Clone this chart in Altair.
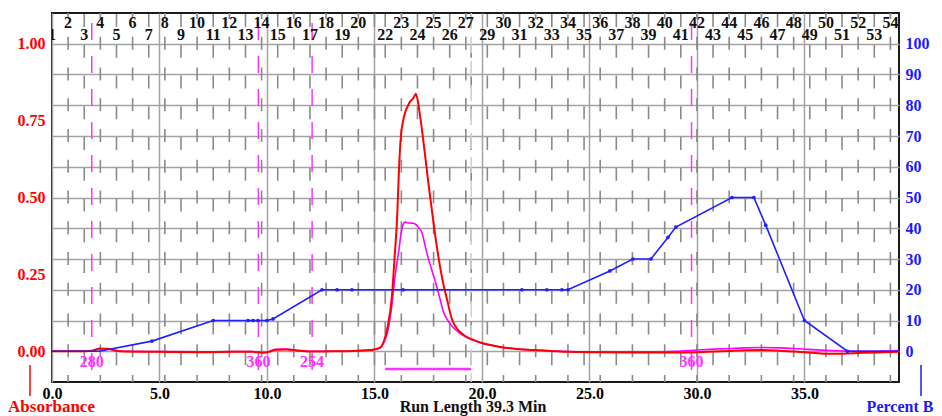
import altair as alt
import pandas as pd

SERIF = "Liberation Serif"

# ---------------- data ----------------
# Absorbance traces (minutes, AU)
abs_t = [0, 1.5, 1.9, 2.2, 2.6, 2.9, 3.3, 5.0, 7.0, 8.5, 9.3, 9.8, 10.1, 10.4, 10.9, 11.4, 12.0, 13.0,
         14.0, 14.6, 15.0, 15.26, 15.45, 15.6, 15.81, 15.95, 16.05, 16.14, 16.23, 16.32, 16.42, 16.55,
         16.65, 16.8, 16.93, 17.07, 17.21, 17.35, 17.49, 17.65, 17.81, 18.05, 18.2, 18.37, 18.6, 18.88,
         19.1, 19.3, 19.6, 20.0, 20.4, 20.84, 21.5, 22.4, 23.2, 24.0, 25.0, 27.0, 28.0, 29.0, 30.0,
         30.8, 31.5, 32.2, 33.0, 33.8, 34.5, 35.2, 36.0, 36.8, 37.5, 38.3, 39.4]
red_v = [0.0, 0.0, 0.002, 0.008, 0.008, 0.003, -0.001, -0.002, -0.003, -0.002, -0.002, -0.005, -0.002,
         0.005, 0.006, 0.002, -0.001, 0.0, 0.001, 0.003, 0.006, 0.012, 0.035, 0.075, 0.177, 0.32, 0.427,
         0.59, 0.7, 0.745, 0.775, 0.797, 0.811, 0.822, 0.837, 0.79, 0.72, 0.64, 0.557, 0.47, 0.385,
         0.275, 0.22, 0.17, 0.105, 0.07, 0.056, 0.046, 0.037, 0.027, 0.02, 0.014, 0.008, 0.004, 0.001,
         -0.002, -0.003, -0.004, -0.004, -0.004, -0.003, -0.001, 0.001, 0.003, 0.004, 0.002, -0.001,
         -0.004, -0.008, -0.008, -0.006, -0.004, -0.002]
mag_v = [0.0, 0.0, 0.003, 0.009, 0.008, 0.003, 0.0, -0.001, -0.002, -0.001, -0.001, -0.004, -0.001,
         0.006, 0.007, 0.003, 0.0, 0.0, 0.001, 0.003, 0.006, 0.011, 0.03, 0.06, 0.15, 0.24, 0.29, 0.33,
         0.38, 0.41, 0.42, 0.418, 0.417, 0.416, 0.412, 0.4, 0.386, 0.345, 0.306, 0.268, 0.232, 0.17,
         0.13, 0.105, 0.082, 0.064, 0.053, 0.045, 0.036, 0.026, 0.02, 0.014, 0.008, 0.004, 0.001,
         -0.001, -0.002, -0.002, -0.002, 0.0, 0.004, 0.007, 0.009, 0.011, 0.012, 0.011, 0.009, 0.006,
         0.003, 0.001, 0.0, 0.0, 0.002]

# Percent B gradient
pct_t = [0, 2.2, 4.65, 7.5, 9.12, 9.35, 9.58, 10.0, 10.28, 12.56, 13.26, 13.95, 16.33, 21.86, 23.02,
         23.72, 24.0, 25.95, 27.02, 27.86, 28.65, 29.02, 31.63, 32.65, 33.2, 35.0, 37.0, 39.4]
pct_v = [0, 0, 3.3, 10, 10, 10, 10, 10, 10.5, 20, 20, 20, 20, 20, 20, 20, 20, 26.1, 30, 30, 37, 40.4,
         50, 50, 41, 10, 0, 0]
pct_dot = [False, False, True, True, True, True, True, True, True, True, True, True, True, True, True,
           True, True, True, True, True, True, True, True, True, True, True, True, False]

# Fraction boundaries (start of fractions 1..54, minutes)
frac_t = [0.0, 0.75, 1.5, 2.25, 3.0, 3.75, 4.5, 5.25, 6.0, 6.75, 7.5, 8.25, 9.0, 9.75, 10.5, 11.25,
          12.0, 12.75, 13.5, 14.25, 15.0, 15.5, 16.25, 17.0, 17.75, 18.5, 19.25, 19.5, 20.25, 21.0,
          21.75, 22.5, 23.25, 24.0, 24.75, 25.5, 26.25, 27.0, 27.75, 28.5, 29.25, 30.0, 30.75, 31.5,
          32.25, 33.0, 33.75, 34.5, 35.25, 36.0, 36.75, 37.5, 38.25, 39.0]
frac_num = list(range(1, 55))
frac_hidden = [21, 28]

# Wavelength change markers
wl_t = [1.85, 9.6, 12.1, 29.75]
wl_label = ["280", "360", "254", "360"]

# Collection window
coll_start = [15.5]
coll_end = [19.5]
frac_end_marker = [19.5]

x_ticks = [0, 5, 10, 15, 20, 25, 30, 35]
abs_ticks = [0, 0.25, 0.5, 0.75, 1.0]
pct_ticks = [0, 10, 20, 30, 40, 50, 60, 70, 80, 90, 100]

W, H = 847, 369
GRID = "#a3a3a3"
TICKC = "#8a8a8a"

# ---------------- frames ----------------
df_abs = pd.DataFrame({"t": abs_t, "red": red_v, "mag": mag_v})
df_pct = pd.DataFrame({"t": pct_t, "p": pct_v, "isdot": pct_dot})
df_frac = pd.DataFrame({"t": frac_t, "n": frac_num})

lab = df_frac[~df_frac["n"].isin(frac_hidden)].reset_index(drop=True)
lab["label"] = lab["n"].astype(str)
lab["row"] = ["low" if i % 2 == 0 else "up" for i in range(len(lab))]
lab_low = lab[lab["row"] == "low"]
lab_up = lab[lab["row"] == "up"]

row_of = dict(zip(lab["n"], lab["row"]))
ticks_df = df_frac[df_frac["n"] > 1].copy()
ticks_df["row"] = [row_of.get(n, "low") for n in ticks_df["n"]]
ticks_low = ticks_df[ticks_df["row"] == "low"]
ticks_up = ticks_df[ticks_df["row"] == "up"]

df_wl = pd.DataFrame({"t": wl_t, "label": wl_label})
df_coll = pd.DataFrame({"t": coll_start, "t2": coll_end})
df_fend = pd.DataFrame({"t": frac_end_marker})
one = pd.DataFrame({"label": [""]})

X = alt.X("t:Q", scale=alt.Scale(domain=[0, 39.4], nice=False, zero=False),
          axis=alt.Axis(values=x_ticks, format=".1f", grid=True, gridColor=GRID, gridWidth=1.5,
                        ticks=False, domain=False, labelFont=SERIF, labelFontWeight="bold",
                        labelFontSize=16, labelColor="black", labelPadding=3, labelFlush=False,
                        title=None))
X2 = alt.X2("t2:Q")

def y_abs(field):
    return alt.Y(f"{field}:Q", scale=alt.Scale(domain=[-0.1, 1.1], nice=False, zero=False),
                 axis=alt.Axis(orient="left", values=abs_ticks, format=".2f", grid=False,
                               ticks=False, domain=False, labelFont=SERIF, labelFontWeight="bold",
                               labelFontSize=16, labelColor="#ff0000", labelPadding=7, title=None))

Y_PCT = alt.Y("p:Q", scale=alt.Scale(domain=[-10, 110], nice=False, zero=False),
              axis=alt.Axis(orient="right", values=pct_ticks, grid=True, gridColor=GRID,
                            gridWidth=1.5, ticks=False, domain=False, labelFont=SERIF,
                            labelFontWeight="bold", labelFontSize=16, labelColor="#1a1aff",
                            labelPadding=6, title=None))

# fraction boundary dashes
tick_low = alt.Chart(ticks_low).mark_rule(color=TICKC, strokeWidth=1.6, strokeDash=[13, 17.75],
                                          strokeDashOffset=29.75).encode(
    x=X, y=alt.value(0), y2=alt.value(H))
tick_up = alt.Chart(ticks_up).mark_rule(color=TICKC, strokeWidth=1.6, strokeDash=[13, 17.75],
                                        strokeDashOffset=7).encode(
    x=X, y=alt.value(0), y2=alt.value(H))
fend = alt.Chart(df_fend).mark_rule(color="#cfcfcf", strokeWidth=1.5, strokeDash=[16, 8]).encode(
    x=X, y=alt.value(0), y2=alt.value(H))

# wavelength markers
wl_rule = alt.Chart(df_wl).mark_rule(color="#ff33ff", strokeWidth=1.5, strokeDash=[17, 16],
                                     strokeDashOffset=23).encode(
    x=X, y=alt.value(0), y2=alt.value(H - 4))
wl_text = alt.Chart(df_wl).mark_text(font=SERIF, fontWeight="bold", fontSize=16, color="#ff33ff",
                                     baseline="alphabetic", align="center").encode(
    x=X, y=alt.value(354), text="label:N")

# collection bar
coll = alt.Chart(df_coll).mark_rule(color="#ff33ff", strokeWidth=2.5).encode(
    x=X, x2=X2, y=alt.value(356))

# fraction numbers
num_up = alt.Chart(lab_up).mark_text(font=SERIF, fontWeight="bold", fontSize=16, color="#111",
                                     baseline="alphabetic", align="center", clip=True).encode(
    x=X, y=alt.value(15), text="label:N")
num_low = alt.Chart(lab_low).mark_text(font=SERIF, fontWeight="bold", fontSize=16, color="#111",
                                       baseline="alphabetic", align="center", clip=True).encode(
    x=X, y=alt.value(27), text="label:N")

# absorbance traces
mag_line = alt.Chart(df_abs).mark_line(color="#ff00ff", strokeWidth=1.6, interpolate="monotone").encode(
    x=X, y=y_abs("mag"))
red_line = alt.Chart(df_abs).mark_line(color="#ff0000", strokeWidth=2, interpolate="monotone").encode(
    x=X, y=y_abs("red"))
abs_layer = alt.layer(mag_line, red_line)

# percent B
pct_line = alt.Chart(df_pct).mark_line(color="#1f1fff", strokeWidth=1.6).encode(x=X, y=Y_PCT)
pct_pts = alt.Chart(df_pct[df_pct["isdot"]]).mark_circle(color="#1f1fff", size=14, opacity=1).encode(
    x=X, y=Y_PCT)
pct_layer = alt.layer(pct_line, pct_pts)

# outside annotations
abs_title = alt.Chart(one).mark_text(font=SERIF, fontWeight="bold", fontSize=17, color="#ff0000",
                                     text="Absorbance", align="center", baseline="alphabetic").encode(
    x=alt.value(-0.5), y=alt.value(398.5))
abs_mark = alt.Chart(one).mark_rule(color="#ff0000", strokeWidth=1.5).encode(
    x=alt.value(-22), y=alt.value(352), y2=alt.value(383))
pct_title = alt.Chart(one).mark_text(font=SERIF, fontWeight="bold", fontSize=16, color="#1a1aff",
                                     text="Percent B", align="center", baseline="alphabetic").encode(
    x=alt.value(848), y=alt.value(398.5))
pct_mark = alt.Chart(one).mark_rule(color="#1a1aff", strokeWidth=1.5).encode(
    x=alt.value(869), y=alt.value(352), y2=alt.value(383))
x_title = alt.Chart(one).mark_text(font=SERIF, fontWeight="bold", fontSize=16, color="#111",
                                   text="Run Length 39.3 Min", align="center",
                                   baseline="alphabetic").encode(
    x=alt.value(421), y=alt.value(399))

chart = alt.layer(
    tick_low, tick_up, fend, wl_rule, coll, num_up, num_low,
    abs_layer, pct_layer, wl_text,
    abs_title, abs_mark, pct_title, pct_mark, x_title,
).resolve_scale(y="independent").properties(
    width=W, height=H, autosize="none",
    padding={"left": 44, "top": 5, "right": 35, "bottom": 34},
    background="white",
).configure_view(stroke="#1a1a1a", strokeWidth=2)

chart.save("out.html", embed_options={"renderer": "svg", "actions": False})
